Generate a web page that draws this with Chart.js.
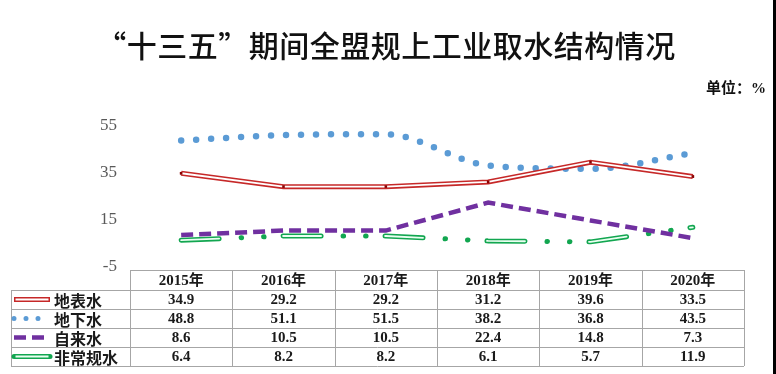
<!DOCTYPE html>
<html>
<head>
<meta charset="utf-8">
<script src="https://cdn.jsdelivr.net/npm/chart.js@4/dist/chart.umd.min.js"></script>
<style>
  html, body { margin: 0; padding: 0; background: #fff; }
  #wrap { position: relative; width: 776px; height: 374px; overflow: hidden; }
  #title { position: absolute; left: 0; width: 772px; top: 22px; line-height: 36px; text-align: center;
           font: 500 30px "Noto Sans CJK SC", sans-serif; color: #111; letter-spacing: 0.5px; }
  #unit { position: absolute; right: 10px; top: 76px; line-height: 22px;
          font: bold 15px "Liberation Serif", "Noto Sans CJK SC", serif; color: #111; }
  #edge { position: absolute; left: 773px; top: 0; width: 3px; height: 374px; background: #000; }
  canvas { position: absolute; left: 0; top: 0; }
</style>
</head>
<body>
<div id="wrap">
  <canvas id="c" width="776" height="374"></canvas>
  <div id="title">“十三五”期间全盟规上工业取水结构情况</div>
  <div id="unit">单位：%</div>
  <div id="edge"></div>
</div>
<script>
// 数据
const years = ['2015年', '2016年', '2017年', '2018年', '2019年', '2020年'];
const seriesNames = ['地表水', '地下水', '自来水', '非常规水'];
const surfaceWater = [34.9, 29.2, 29.2, 31.2, 39.6, 33.5];
const groundWater = [48.8, 51.1, 51.5, 38.2, 36.8, 43.5];
const tapWater = [8.6, 10.5, 10.5, 22.4, 14.8, 7.3];
const otherWater = [6.4, 8.2, 8.2, 6.1, 5.7, 11.9];
const yTicks = [-5, 15, 35, 55];

// Tabelle unten
const tableTop = 270, headH = 20, rowH = 19, tableLeft = 11, labelX = 54;
const gridColor = '#a6a6a6';

function strokePath(ctx, pts) {
  ctx.beginPath();
  pts.forEach((p, i) => i ? ctx.lineTo(p.x, p.y) : ctx.moveTo(p.x, p.y));
  ctx.stroke();
}

// hohle Doppellinie + Punkte nochmal drüber
const hollowPlugin = {
  id: 'hollow',
  afterDatasetDraw(chart, args) {
    const ds = chart.data.datasets[args.index];
    if (!ds.innerColor) return;
    const ctx = chart.ctx;
    const pts = args.meta.data.map(p => ({x: p.x, y: p.y}));
    ctx.save();
    ctx.strokeStyle = ds.innerColor;
    ctx.lineWidth = ds.innerWidth;
    ctx.lineCap = ds.innerDash ? 'round' : 'butt';
    ctx.lineJoin = 'round';
    ctx.setLineDash(ds.innerDash || []);
    strokePath(ctx, pts);
    ctx.restore();
    args.meta.data.forEach(p => p.draw(ctx, chart.chartArea));
  }
};

function drawSample(ctx, ds, x0, x1, y) {
  ctx.save();
  ctx.strokeStyle = ds.borderColor;
  ctx.lineWidth = ds.sampleWidth || ds.borderWidth;
  ctx.lineCap = ds.borderCapStyle || 'butt';
  ctx.setLineDash(ds.sampleDash || ds.borderDash || []);
  strokePath(ctx, [{x: x0, y}, {x: x1, y}]);
  if (ds.innerColor) {
    ctx.strokeStyle = ds.innerColor;
    ctx.lineWidth = ds.innerWidth;
    ctx.lineCap = 'butt';
    ctx.setLineDash([]);
    strokePath(ctx, [{x: x0 + 1.5, y}, {x: x1 - 1.5, y}]);
  }
  ctx.restore();
}

const tablePlugin = {
  id: 'dataTable',
  afterDraw(chart) {
    const ctx = chart.ctx;
    const xs = chart.scales.x;
    const band = xs.getPixelForValue(1) - xs.getPixelForValue(0);
    const edges = years.map((_, i) => xs.getPixelForValue(i) - band / 2);
    const right = xs.getPixelForValue(years.length - 1) + band / 2;
    edges.push(right);
    const bottom = tableTop + headH + rowH * seriesNames.length;

    ctx.save();
    ctx.strokeStyle = gridColor;
    ctx.lineWidth = 1;
    const hl = (x0, x1, y) => { ctx.beginPath(); ctx.moveTo(x0, Math.round(y) + 0.5); ctx.lineTo(x1, Math.round(y) + 0.5); ctx.stroke(); };
    const vl = (x, y0, y1) => { ctx.beginPath(); ctx.moveTo(Math.round(x) + 0.5, y0); ctx.lineTo(Math.round(x) + 0.5, y1); ctx.stroke(); };
    hl(edges[0], right, tableTop);
    for (let r = 0; r <= seriesNames.length; r++) hl(tableLeft, right, tableTop + headH + r * rowH);
    vl(tableLeft, tableTop + headH, bottom);
    edges.forEach(x => vl(x, tableTop, bottom));

    // Kopfzeile
    ctx.fillStyle = '#1a1a1a';
    ctx.textAlign = 'center';
    ctx.textBaseline = 'middle';
    ctx.font = 'bold 15px "Liberation Serif", "Noto Sans CJK SC", serif';
    years.forEach((y, i) => ctx.fillText(y, xs.getPixelForValue(i), tableTop + headH / 2 + 1));

    chart.data.datasets.forEach((ds, r) => {
      const cy = tableTop + headH + r * rowH + rowH / 2;
      drawSample(ctx, ds, 14, 50, cy);
      ctx.fillStyle = '#1a1a1a';
      ctx.textAlign = 'left';
      ctx.font = 'bold 16px "Noto Sans CJK SC", sans-serif';
      ctx.fillText(ds.label, labelX, cy + 1);
      ctx.textAlign = 'center';
      ctx.font = 'bold 15px "Liberation Serif", serif';
      ds.data.forEach((v, i) => ctx.fillText(v.toFixed(1), xs.getPixelForValue(i), cy + 1));
    });
    ctx.restore();
  }
};

new Chart(document.getElementById('c'), {
  type: 'line',
  data: {
    labels: years,
    datasets: [
      {
        label: seriesNames[0], data: surfaceWater,
        borderColor: '#c62828', borderWidth: 5, tension: 0,
        innerColor: '#fff', innerWidth: 1.8,
        pointRadius: 1.8, pointStyle: 'rect', pointBackgroundColor: '#8b0000', pointBorderWidth: 0
      },
      {
        label: seriesNames[1], data: groundWater,
        borderColor: '#5b9bd5', borderWidth: 6.5, borderDash: [0, 15], borderCapStyle: 'round',
        cubicInterpolationMode: 'monotone', pointRadius: 0,
        sampleWidth: 5, sampleDash: [0, 12]
      },
      {
        label: seriesNames[2], data: tapWater,
        borderColor: '#7030a0', borderWidth: 4.5, borderDash: [12, 6], tension: 0, pointRadius: 0
      },
      {
        label: seriesNames[3], data: otherWater,
        borderColor: '#12a650', borderWidth: 5, borderDash: [38, 22, 0.5, 22, 0.5, 19], borderCapStyle: 'round',
        innerColor: '#eafff1', innerWidth: 1.8, innerDash: [38, 64],
        sampleDash: [], tension: 0, pointRadius: 0
      }
    ]
  },
  options: {
    responsive: false,
    animation: false,
    layout: { padding: { top: 126, bottom: 107, left: 0, right: 32 } },
    plugins: { legend: { display: false }, tooltip: { enabled: false }, title: { display: false } },
    scales: {
      x: { type: 'category', display: false, offset: true },
      y: {
        min: yTicks[0], max: yTicks[yTicks.length - 1],
        afterFit(scale) { scale.width = 130; },
        afterBuildTicks(scale) { scale.ticks = yTicks.map(v => ({value: v})); },
        grid: { display: false, drawTicks: false },
        border: { display: false },
        ticks: { padding: 13, color: '#595959', font: { family: '"Liberation Serif", serif', size: 17 } }
      }
    }
  },
  plugins: [hollowPlugin, tablePlugin]
});
</script>
</body>
</html>
